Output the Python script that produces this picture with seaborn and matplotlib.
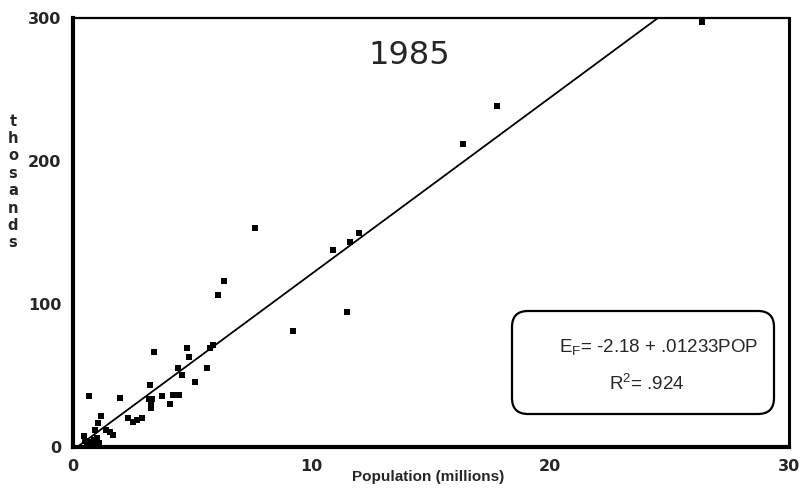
import matplotlib
matplotlib.use("Agg")
import matplotlib.pyplot as plt
from matplotlib.patches import FancyBboxPatch
import numpy as np
import pandas as pd
import seaborn as sns

# ---- data ----
population = [0.65, 1.98, 3.40, 3.22, 3.18, 3.30, 3.28, 3.28, 3.75, 4.20,
              4.45, 4.08, 4.40, 4.57, 4.79, 4.87, 5.10, 5.60, 5.72, 5.87,
              6.06, 6.34, 7.63, 9.20, 10.88, 11.46, 11.60, 11.97, 16.35, 17.75,
              26.35, 2.30, 2.51, 2.68, 2.89, 1.17, 1.03, 0.93, 1.40, 1.53,
              1.66, 0.45, 0.52, 0.60, 0.70, 0.80, 0.88, 0.95, 1.02, 1.08]
employment = [36.0, 34.0, 66.7, 43.2, 33.5, 33.5, 30.5, 27.5, 36.0, 36.4,
              36.4, 30.0, 55.0, 50.5, 69.0, 62.6, 45.5, 55.0, 69.0, 71.3,
              106.3, 116.3, 153.4, 81.1, 137.8, 94.3, 143.6, 149.9, 212.1, 238.7,
              297.0, 20.3, 17.5, 18.9, 20.3, 22.0, 16.8, 11.7, 12.0, 10.8,
              8.6, 7.7, 4.5, 2.5, 3.5, 2.5, 5.0, 2.8, 6.5, 3.0]
intercept = -2.18
slope = 12.33          # per million (= .01233 per thousand)
x_ticks = [0, 10, 20, 30]
y_ticks = [0, 100, 200, 300]
title = "1985"
x_label = "Population (millions)"
y_label = "thosands"
eq_line1 = r"E$_\mathregular{F}$= -2.18 + .01233POP"
eq_line2 = r"R$^\mathregular{2}$= .924"

df = pd.DataFrame({"pop": population, "emp": employment})
line_x = np.array([0.0, 30.0])
line_df = pd.DataFrame({"x": line_x, "y": intercept + slope * line_x})

sns.set_style("white")
plt.rcParams["font.family"] = ["DejaVu Sans"]

fig = plt.figure(figsize=(8.03, 4.88), dpi=100)
ax = fig.add_axes([73 / 803, 41 / 488, 716 / 803, 429 / 488])

sns.lineplot(data=line_df, x="x", y="y", ax=ax, color="black", linewidth=1.3)
sns.scatterplot(data=df, x="pop", y="emp", ax=ax, marker="s", s=18,
                color="black", linewidth=0, zorder=3)

ax.set_xlim(0, 30)
ax.set_ylim(0, 300)
ax.set_xticks(x_ticks)
ax.set_yticks(y_ticks)
ax.set_xlabel("")
ax.set_ylabel("")
ax.tick_params(axis="both", direction="inout", length=9, width=2,
               color="black", labelsize=11.5, pad=4)
for lab in ax.get_xticklabels() + ax.get_yticklabels():
    lab.set_fontweight("bold")

for side, lw in (("left", 3.0), ("bottom", 3.0), ("right", 2.2), ("top", 1.6)):
    ax.spines[side].set_visible(True)
    ax.spines[side].set_color("black")
    ax.spines[side].set_linewidth(lw)

ax.text(14.1, 274, title, ha="center", va="center", fontsize=23,
        family="DejaVu Sans")

fig.text(428 / 803, 1 - 477 / 488, x_label, ha="center", va="center",
         fontsize=11, fontweight="bold", family="Liberation Sans")
fig.text(13 / 803, 1 - 182 / 488, "\n".join(y_label), ha="center", va="center",
         fontsize=10.5, fontweight="bold", linespacing=1.2, family="DejaVu Sans")

box = FancyBboxPatch((5.12, 0.74), 2.62, 1.03,
                     boxstyle="round,pad=0,rounding_size=0.16",
                     transform=fig.dpi_scale_trans, facecolor="white",
                     edgecolor="black", linewidth=1.6, zorder=5)
fig.patches.append(box)
fig.text(659 / 803, 1 - 348 / 488, eq_line1, ha="center", va="center",
         fontsize=13.5, family="Liberation Sans", zorder=6)
fig.text(647 / 803, 1 - 384 / 488, eq_line2, ha="center", va="center",
         fontsize=13.5, family="Liberation Sans", zorder=6)

fig.savefig("out.png", dpi=100)
